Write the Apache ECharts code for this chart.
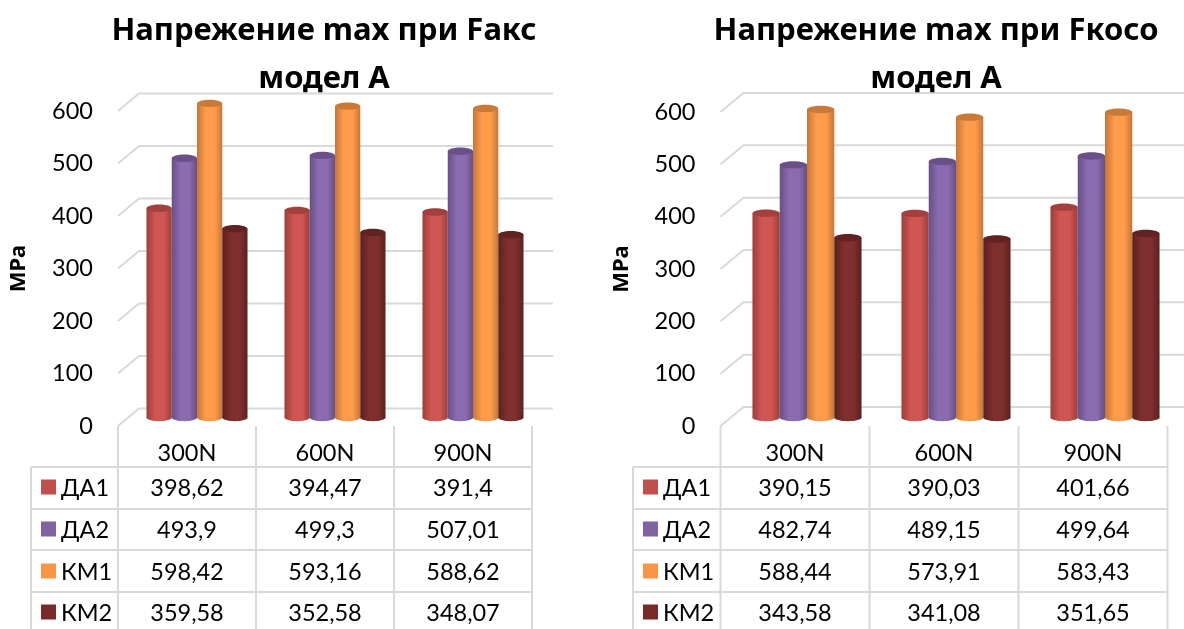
<!DOCTYPE html>
<html>
<head>
<meta charset="utf-8">
<script src="https://cdn.jsdelivr.net/npm/echarts@6/dist/echarts.min.js"></script>
<style>
html, body { margin: 0; padding: 0; background: #fff; }
#main { width: 1184px; height: 629px; }
</style>
</head>
<body>
<div id="main"></div>
<script>
const categories = ["300N", "600N", "900N"];
const seriesNames = ["ДА1", "ДА2", "КМ1", "КМ2"];
const yTicks = [0, 100, 200, 300, 400, 500, 600];

const axialDA1 = [398.62, 394.47, 391.4];
const axialDA2 = [493.9, 499.3, 507.01];
const axialKM1 = [598.42, 593.16, 588.62];
const axialKM2 = [359.58, 352.58, 348.07];

const obliqueDA1 = [390.15, 390.03, 401.66];
const obliqueDA2 = [482.74, 489.15, 499.64];
const obliqueKM1 = [588.44, 573.91, 583.43];
const obliqueKM2 = [343.58, 341.08, 351.65];

const tableLabelsLeft = [
  ["398,62", "394,47", "391,4"],
  ["493,9", "499,3", "507,01"],
  ["598,42", "593,16", "588,62"],
  ["359,58", "352,58", "348,07"],
];
const tableLabelsRight = [
  ["390,15", "390,03", "401,66"],
  ["482,74", "489,15", "499,64"],
  ["588,44", "573,91", "583,43"],
  ["343,58", "341,08", "351,65"],
];

const colors = ["#c0504d", "#8064a2", "#f79646", "#772c2a"];
const shades = [
  { edge: "#9c3e3b", mid: "#d05653", top: "#a33f3c" },
  { edge: "#675085", mid: "#8b6cb0", top: "#6a5088" },
  { edge: "#c5763a", mid: "#ff9c4b", top: "#c97a38" },
  { edge: "#5c2120", mid: "#7f2f2d", top: "#612321" },
];

const FONT = "Lato";
const TITLE_FONT = "Noto Sans";
const rowLines = [467, 509, 550, 592];
const rowCenters = [488, 530, 572, 613];

const charts = [
  {
    title: "Напрежение max при Fакс\nмодел А",
    titleX: 324,
    left: 118,
    width: 414,
    top: 111,
    height: 315,
    tableLeft: 31,
    barDx: 10,
    skewX: 21,
    skewY: 17.5,
    values: [axialDA1, axialDA2, axialKM1, axialKM2],
    cells: tableLabelsLeft,
    wallRight: 553,
  },
  {
    title: "Напрежение max при Fкосо\nмодел А",
    titleX: 936,
    left: 720.5,
    width: 447,
    top: 112,
    height: 314,
    tableLeft: 633,
    barDx: 12,
    skewX: 23,
    skewY: 19,
    values: [obliqueDA1, obliqueDA2, obliqueKM1, obliqueKM2],
    cells: tableLabelsRight,
    wallRight: 1190,
  },
];

// back wall and the slanted floor lines, one polyline per tick
function wallRenderer(c) {
  return function (params, api) {
    const y = api.coord([0, api.value(1)])[1];
    return {
      type: "polyline",
      shape: {
        points: [
          [c.left, y],
          [c.left + c.skewX, y - c.skewY],
          [c.wallRight, y - c.skewY],
        ],
      },
      style: { stroke: "#d9d9d9", lineWidth: 2, fill: null },
      silent: true,
    };
  };
}

// cylinder: body with a sideways gradient, rounded foot, darker lid
function cylinderRenderer(c, s) {
  return function (params, api) {
    const band = api.size([1, 0])[0];
    const w = band * 0.183;
    const top = api.coord([api.value(0), api.value(1)]);
    const base = api.coord([api.value(0), 0]);
    const x = top[0] + c.barDx + (s - 1.5) * w - w / 2;
    const dy = -8.5;
    const ry = 3.7;
    const body = {
      type: "linear", x: 0, y: 0, x2: 1, y2: 0,
      colorStops: [
        { offset: 0, color: shades[s].edge },
        { offset: 0.35, color: shades[s].mid },
        { offset: 0.7, color: shades[s].mid },
        { offset: 1, color: shades[s].edge },
      ],
    };
    return {
      type: "group",
      children: [
        {
          type: "ellipse",
          shape: { cx: x + w / 2, cy: base[1] + dy, rx: w / 2, ry: ry },
          style: { fill: body },
        },
        {
          type: "rect",
          shape: { x: x, y: top[1] + dy, width: w, height: base[1] - top[1] },
          style: { fill: body },
        },
        {
          type: "ellipse",
          shape: { cx: x + w / 2, cy: top[1] + dy, rx: w / 2, ry: ry },
          style: { fill: shades[s].top },
        },
      ],
    };
  };
}

function tableGraphics(c) {
  const out = [];
  const band = c.width / categories.length;
  const right = c.left + c.width;
  const lineStyle = { stroke: "#d9d9d9", lineWidth: 2 };
  rowLines.forEach(function (y) {
    out.push({ type: "line", shape: { x1: c.tableLeft, y1: y, x2: right, y2: y }, style: lineStyle });
  });
  out.push({ type: "line", shape: { x1: c.tableLeft, y1: rowLines[0], x2: c.tableLeft, y2: 629 }, style: lineStyle });
  for (let i = 0; i <= categories.length; i++) {
    const x = c.left + band * i;
    out.push({ type: "line", shape: { x1: x, y1: 426, x2: x, y2: 629 }, style: lineStyle });
  }
  seriesNames.forEach(function (name, r) {
    out.push({
      type: "rect",
      shape: { x: c.tableLeft + 10, y: rowCenters[r] - 8.5, width: 15, height: 15 },
      style: { fill: colors[r] },
    });
    out.push({
      type: "text",
      x: c.tableLeft + 30,
      y: rowCenters[r],
      style: { text: name, font: "23.5px " + FONT, fill: "#000", textVerticalAlign: "middle" },
    });
    c.cells[r].forEach(function (label, i) {
      out.push({
        type: "text",
        x: c.left + band * (i + 0.5),
        y: rowCenters[r],
        style: { text: label, font: "23.5px " + FONT, fill: "#000", textAlign: "center", textVerticalAlign: "middle" },
      });
    });
  });
  return out;
}

const option = {
  animation: false,
  backgroundColor: "#fff",
  title: charts.map(function (c) {
    return {
      text: c.title,
      left: c.titleX,
      top: 7,
      padding: 0,
      textAlign: "center",
      textStyle: { fontFamily: TITLE_FONT, fontWeight: "bold", fontSize: 31, lineHeight: 48, color: "#000" },
    };
  }),
  grid: charts.map(function (c) {
    return { left: c.left, width: c.width, top: c.top, height: c.height };
  }),
  xAxis: charts.map(function (c, i) {
    return {
      type: "category",
      gridIndex: i,
      data: categories,
      axisLine: { show: false },
      axisTick: { show: false },
      axisLabel: { fontFamily: FONT, fontSize: 23.5, color: "#000", margin: 15 },
    };
  }),
  yAxis: charts.map(function (c, i) {
    return {
      type: "value",
      gridIndex: i,
      min: 0,
      max: 600,
      interval: 100,
      name: "MPa",
      nameLocation: "middle",
      nameGap: 88,
      nameTextStyle: { fontFamily: TITLE_FONT, fontWeight: "bold", fontSize: 22, color: "#000" },
      axisLine: { show: false },
      axisTick: { show: false },
      splitLine: { show: false },
      axisLabel: { fontFamily: FONT, fontSize: 23.5, color: "#000", margin: 25, padding: [4, 0, 0, 0] },
    };
  }),
  series: [],
  graphic: { elements: charts.flatMap(tableGraphics) },
};

charts.forEach(function (c, i) {
  option.series.push({
    type: "custom",
    name: "wall",
    xAxisIndex: i,
    yAxisIndex: i,
    z: 1,
    clip: false,
    renderItem: wallRenderer(c),
    data: yTicks.map(function (v) { return [0, v]; }),
  });
  seriesNames.forEach(function (name, s) {
    option.series.push({
      type: "custom",
      name: name,
      xAxisIndex: i,
      yAxisIndex: i,
      z: 2 + s,
      clip: false,
      renderItem: cylinderRenderer(c, s),
      data: c.values[s].map(function (v, k) { return [k, v]; }),
    });
  });
});

const myChart = echarts.init(document.getElementById("main"), null, { renderer: "canvas" });
myChart.setOption(option);
</script>
</body>
</html>
